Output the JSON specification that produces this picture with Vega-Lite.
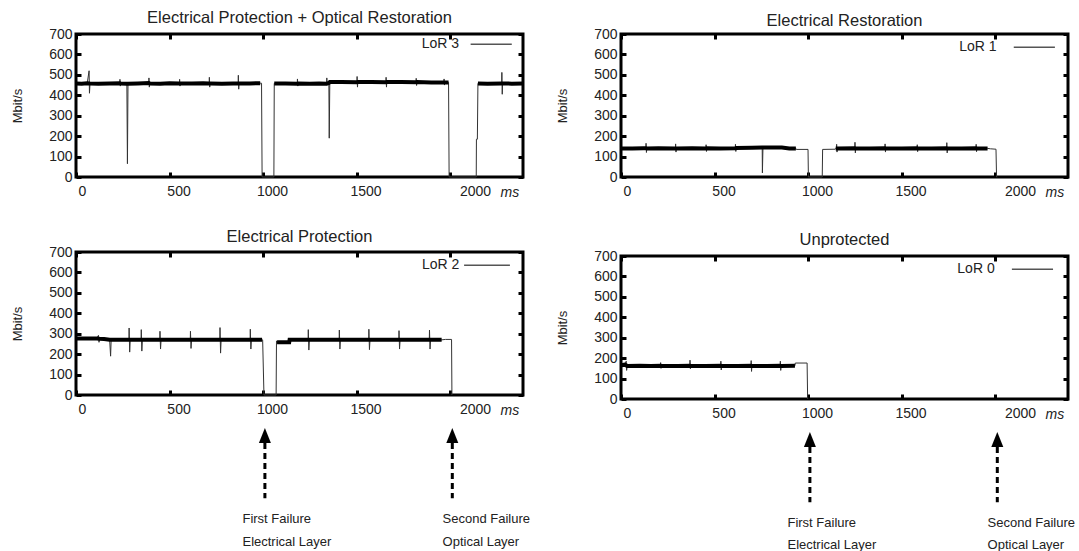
{
  "$schema": "https://vega.github.io/schema/vega-lite/v6.json",
  "padding": {"left": 10, "top": 8, "right": 2, "bottom": 0},
  "background": "white",
  "datasets": {
    "tl": [
      {"t":0,"v":458,"b":1},{"t":30,"v":456,"b":1},{"t":60,"v":459,"b":1},{"t":70,"v":520},{"t":72,"v":410},{"t":75,"v":458,"b":1},
      {"t":120,"v":457,"b":1},{"t":180,"v":458,"b":1},{"t":234,"v":459,"b":1},{"t":235,"v":478},{"t":237,"v":445},{"t":239,"v":458,"b":1},
      {"t":272,"v":456,"b":1},{"t":275,"v":65},{"t":278,"v":456,"b":1},{"t":330,"v":458,"b":1},{"t":389,"v":460,"b":1},{"t":390,"v":485},{"t":392,"v":440},{"t":394,"v":458,"b":1},
      {"t":450,"v":457,"b":1},{"t":500,"v":459,"b":1},{"t":553,"v":458,"b":1},{"t":554,"v":478},{"t":556,"v":445},{"t":558,"v":458,"b":1},
      {"t":620,"v":458,"b":1},{"t":680,"v":459,"b":1},{"t":712,"v":458,"b":1},{"t":713,"v":488},{"t":715,"v":440},{"t":717,"v":458,"b":1},
      {"t":780,"v":457,"b":1},{"t":840,"v":458,"b":1},{"t":867,"v":458,"b":1},{"t":868,"v":498},{"t":870,"v":430},{"t":872,"v":458,"b":1},
      {"t":930,"v":458,"b":1},{"t":985,"v":459,"b":1},{"t":992,"v":459},{"t":995,"v":0},{"t":1058,"v":0},{"t":1060,"v":458,"b":2},
      {"t":1120,"v":458,"b":2},{"t":1183,"v":457,"b":2},{"t":1184,"v":480},{"t":1186,"v":445},{"t":1188,"v":458,"b":2},
      {"t":1250,"v":456,"b":2},{"t":1300,"v":458,"b":2},{"t":1340,"v":457,"b":2},{"t":1341,"v":485},{"t":1343,"v":450},{"t":1352,"v":460,"b":2},
      {"t":1354,"v":190},{"t":1357,"v":465,"b":2},{"t":1420,"v":465,"b":2},{"t":1502,"v":464,"b":2},{"t":1503,"v":492},{"t":1505,"v":440},{"t":1507,"v":465,"b":2},
      {"t":1580,"v":465,"b":2},{"t":1657,"v":464,"b":2},{"t":1658,"v":488},{"t":1660,"v":440},{"t":1662,"v":465,"b":2},
      {"t":1740,"v":465,"b":2},{"t":1818,"v":464,"b":2},{"t":1819,"v":483},{"t":1821,"v":448},{"t":1823,"v":465,"b":2},
      {"t":1900,"v":463,"b":2},{"t":1967,"v":462,"b":2},{"t":1968,"v":480},{"t":1970,"v":450},{"t":1972,"v":463,"b":2},{"t":1992,"v":463,"b":2},
      {"t":1995,"v":0},{"t":2140,"v":0},{"t":2141,"v":185},{"t":2146,"v":185},{"t":2149,"v":458,"b":3},
      {"t":2200,"v":457,"b":3},{"t":2276,"v":458,"b":3},{"t":2277,"v":512},{"t":2279,"v":405},{"t":2281,"v":458,"b":3},{"t":2330,"v":457,"b":3},{"t":2390,"v":458,"b":3}
    ],
    "tr": [
      {"t":0,"v":140,"b":1},{"t":60,"v":139,"b":1},{"t":120,"v":141,"b":1},{"t":133,"v":141,"b":1},{"t":134,"v":165},{"t":136,"v":120},{"t":138,"v":140,"b":1},
      {"t":200,"v":141,"b":1},{"t":291,"v":140,"b":1},{"t":292,"v":162},{"t":294,"v":122},{"t":296,"v":140,"b":1},
      {"t":380,"v":141,"b":1},{"t":454,"v":140,"b":1},{"t":455,"v":158},{"t":457,"v":125},{"t":459,"v":141,"b":1},
      {"t":530,"v":140,"b":1},{"t":611,"v":141,"b":1},{"t":612,"v":160},{"t":614,"v":125},{"t":616,"v":142,"b":1},
      {"t":700,"v":143,"b":1},{"t":755,"v":144,"b":1},{"t":756,"v":20},{"t":759,"v":144,"b":1},{"t":800,"v":145,"b":1},{"t":860,"v":144,"b":1},
      {"t":900,"v":140,"b":1},{"t":935,"v":140,"b":1},{"t":937,"v":135},{"t":1000,"v":135},{"t":1002,"v":0},{"t":1076,"v":0},{"t":1078,"v":135},{"t":1145,"v":136},
      {"t":1148,"v":140,"b":2},{"t":1152,"v":140,"b":2},{"t":1153,"v":160},{"t":1155,"v":122},{"t":1157,"v":140,"b":2},
      {"t":1250,"v":141,"b":2},{"t":1251,"v":170},{"t":1253,"v":118},{"t":1255,"v":140,"b":2},
      {"t":1330,"v":140,"b":2},{"t":1411,"v":141,"b":2},{"t":1412,"v":162},{"t":1414,"v":122},{"t":1416,"v":140,"b":2},
      {"t":1500,"v":140,"b":2},{"t":1583,"v":141,"b":2},{"t":1584,"v":158},{"t":1586,"v":124},{"t":1588,"v":140,"b":2},
      {"t":1660,"v":140,"b":2},{"t":1741,"v":141,"b":2},{"t":1742,"v":168},{"t":1744,"v":118},{"t":1746,"v":140,"b":2},
      {"t":1820,"v":140,"b":2},{"t":1898,"v":141,"b":2},{"t":1899,"v":160},{"t":1901,"v":124},{"t":1903,"v":140,"b":2},
      {"t":1960,"v":140,"b":2},{"t":1975,"v":138},{"t":2005,"v":136},{"t":2008,"v":0},{"t":2012,"v":0}
    ],
    "bl": [
      {"t":0,"v":277,"b":1},{"t":60,"v":277,"b":1},{"t":110,"v":276,"b":1},{"t":120,"v":292},{"t":123,"v":258},{"t":126,"v":275,"b":1},
      {"t":150,"v":274,"b":1},{"t":180,"v":270,"b":1},{"t":185,"v":190},{"t":188,"v":270,"b":1},
      {"t":240,"v":271,"b":1},{"t":283,"v":270,"b":1},{"t":284,"v":328},{"t":287,"v":210},{"t":290,"v":270,"b":1},
      {"t":320,"v":270,"b":1},{"t":348,"v":270,"b":1},{"t":349,"v":320},{"t":352,"v":215},{"t":355,"v":270,"b":1},
      {"t":400,"v":271,"b":1},{"t":448,"v":270,"b":1},{"t":449,"v":312},{"t":452,"v":225},{"t":455,"v":270,"b":1},
      {"t":530,"v":270,"b":1},{"t":611,"v":270,"b":1},{"t":612,"v":312},{"t":615,"v":228},{"t":618,"v":270,"b":1},
      {"t":690,"v":270,"b":1},{"t":769,"v":271,"b":1},{"t":770,"v":330},{"t":773,"v":205},{"t":776,"v":270,"b":1},
      {"t":850,"v":270,"b":1},{"t":931,"v":270,"b":1},{"t":932,"v":322},{"t":935,"v":225},{"t":938,"v":270,"b":1},
      {"t":995,"v":270,"b":1},{"t":998,"v":270},{"t":1005,"v":0},{"t":1070,"v":0},{"t":1072,"v":265},
      {"t":1075,"v":258,"b":2},{"t":1140,"v":258,"b":2},{"t":1142,"v":270,"b":2},{"t":1200,"v":270,"b":2},
      {"t":1241,"v":270,"b":2},{"t":1242,"v":320},{"t":1245,"v":220},{"t":1248,"v":270,"b":2},
      {"t":1320,"v":270,"b":2},{"t":1407,"v":270,"b":2},{"t":1408,"v":318},{"t":1411,"v":225},{"t":1414,"v":270,"b":2},
      {"t":1490,"v":271,"b":2},{"t":1565,"v":270,"b":2},{"t":1566,"v":322},{"t":1569,"v":222},{"t":1572,"v":270,"b":2},
      {"t":1650,"v":270,"b":2},{"t":1726,"v":270,"b":2},{"t":1727,"v":315},{"t":1730,"v":225},{"t":1733,"v":270,"b":2},
      {"t":1810,"v":270,"b":2},{"t":1889,"v":270,"b":2},{"t":1890,"v":318},{"t":1893,"v":225},{"t":1896,"v":270,"b":2},
      {"t":1955,"v":270,"b":2},{"t":1975,"v":272},{"t":2008,"v":272},{"t":2010,"v":0}
    ],
    "br": [
      {"t":0,"v":165,"b":1},{"t":20,"v":168,"b":1},{"t":28,"v":185},{"t":30,"v":140},{"t":33,"v":162,"b":1},
      {"t":100,"v":163,"b":1},{"t":160,"v":162,"b":1},{"t":211,"v":163,"b":1},{"t":212,"v":178},{"t":214,"v":150},{"t":216,"v":162,"b":1},
      {"t":300,"v":162,"b":1},{"t":368,"v":163,"b":1},{"t":369,"v":190},{"t":371,"v":148},{"t":373,"v":162,"b":1},
      {"t":450,"v":162,"b":1},{"t":533,"v":163,"b":1},{"t":534,"v":185},{"t":536,"v":142},{"t":538,"v":162,"b":1},
      {"t":620,"v":162,"b":1},{"t":695,"v":163,"b":1},{"t":696,"v":188},{"t":698,"v":135},{"t":700,"v":162,"b":1},
      {"t":780,"v":162,"b":1},{"t":851,"v":163,"b":1},{"t":852,"v":185},{"t":854,"v":140},{"t":856,"v":162,"b":1},
      {"t":930,"v":163,"b":1},{"t":932,"v":176},{"t":995,"v":176},{"t":998,"v":0}
    ],
    "fail": [
      {"t":1010,"first":"First Failure","second":"Electrical Layer","tx":890},
      {"t":2012,"first":"Second Failure","second":"Optical Layer","tx":1960}
    ],
    "one": [{}]
  },
  "hconcat": [
    {
      "spacing": 25,
      "vconcat": [
        {
          "title": {"text": "Electrical Protection + Optical Restoration", "offset": 1},
          "width": 447, "height": 143,
          "layer": [
            {"data": {"name": "tl"}, "mark": {"type": "line", "color": "#333", "strokeWidth": 1},
             "encoding": {
               "x": {"field": "t", "type": "quantitative", "scale": {"domain": [0, 2390], "nice": false, "zero": false},
                     "axis": {"orient": "bottom", "values": [0, 500, 1000, 1500, 2000], "format": "d", "title": null,
                              "labelOffset": {"condition": [{"test": "datum.value == 2000", "value": 25}, {"test": "datum.value == 0", "value": 2}], "value": 9}}},
               "y": {"field": "v", "type": "quantitative", "scale": {"domain": [0, 700], "nice": false},
                     "axis": {"values": [0, 100, 200, 300, 400, 500, 600, 700], "title": "Mbit/s"}}}},
            {"data": {"name": "tl"}, "transform": [{"filter": "isValid(datum.b)"}], "mark": {"type": "line", "color": "#000", "strokeWidth": 4},
             "encoding": {
               "x": {"field": "t", "type": "quantitative", "scale": {"domain": [0, 2390]}, "axis": null},
               "y": {"field": "v", "type": "quantitative", "scale": {"domain": [0, 700]}, "axis": null},
               "detail": {"field": "b"}}},
            {"data": {"name": "tl"}, "mark": {"type": "point", "opacity": 0},
             "encoding": {
               "x": {"field": "t", "type": "quantitative", "scale": {"domain": [0, 2390]}, "axis": {"orient": "top", "labels": false, "title": null, "values": [0, 500, 1000, 1500, 2000]}},
               "y": {"field": "v", "type": "quantitative", "scale": {"domain": [0, 700]}, "axis": {"orient": "right", "labels": false, "title": null, "values": [0, 100, 200, 300, 400, 500, 600, 700]}}}},
            {"data": {"name": "one"}, "mark": {"type": "text", "align": "right", "baseline": "middle", "fontSize": 14, "color": "#222"},
             "encoding": {"x": {"datum": 2048, "type": "quantitative", "scale": {"domain": [0, 2390]}, "axis": null}, "y": {"datum": 650, "type": "quantitative", "scale": {"domain": [0, 700]}, "axis": null}, "text": {"value": "LoR 3"}}},
            {"data": {"name": "one"}, "mark": {"type": "rule", "color": "#555", "strokeWidth": 1.5},
             "encoding": {"x": {"datum": 2110, "type": "quantitative", "scale": {"domain": [0, 2390]}, "axis": null}, "x2": {"datum": 2330}, "y": {"datum": 650, "type": "quantitative", "scale": {"domain": [0, 700]}, "axis": null}}},
            {"data": {"name": "one"}, "mark": {"type": "text", "align": "center", "baseline": "middle", "fontSize": 14, "fontStyle": "italic", "color": "#222", "clip": false},
             "encoding": {"x": {"datum": 2320, "type": "quantitative", "scale": {"domain": [0, 2390]}, "axis": null}, "y": {"datum": -80, "type": "quantitative", "scale": {"domain": [0, 700]}, "axis": null}, "text": {"value": "ms"}}}
          ],
          "resolve": {"axis": {"x": "independent", "y": "independent"}}
        },
        {
          "title": {"text": "Electrical Protection", "offset": 0},
          "width": 447, "height": 143,
          "layer": [
            {"data": {"name": "bl"}, "mark": {"type": "line", "color": "#333", "strokeWidth": 1},
             "encoding": {
               "x": {"field": "t", "type": "quantitative", "scale": {"domain": [0, 2390], "nice": false, "zero": false},
                     "axis": {"orient": "bottom", "values": [0, 500, 1000, 1500, 2000], "format": "d", "title": null,
                              "labelOffset": {"condition": [{"test": "datum.value == 2000", "value": 25}, {"test": "datum.value == 0", "value": 2}], "value": 9}}},
               "y": {"field": "v", "type": "quantitative", "scale": {"domain": [0, 700], "nice": false},
                     "axis": {"values": [0, 100, 200, 300, 400, 500, 600, 700], "title": "Mbit/s"}}}},
            {"data": {"name": "bl"}, "transform": [{"filter": "isValid(datum.b)"}], "mark": {"type": "line", "color": "#000", "strokeWidth": 4},
             "encoding": {
               "x": {"field": "t", "type": "quantitative", "scale": {"domain": [0, 2390]}, "axis": null},
               "y": {"field": "v", "type": "quantitative", "scale": {"domain": [0, 700]}, "axis": null},
               "detail": {"field": "b"}}},
            {"data": {"name": "bl"}, "mark": {"type": "point", "opacity": 0},
             "encoding": {
               "x": {"field": "t", "type": "quantitative", "scale": {"domain": [0, 2390]}, "axis": {"orient": "top", "labels": false, "title": null, "values": [0, 500, 1000, 1500, 2000]}},
               "y": {"field": "v", "type": "quantitative", "scale": {"domain": [0, 700]}, "axis": {"orient": "right", "labels": false, "title": null, "values": [0, 100, 200, 300, 400, 500, 600, 700]}}}},
            {"data": {"name": "one"}, "mark": {"type": "text", "align": "right", "baseline": "middle", "fontSize": 14, "color": "#222"},
             "encoding": {"x": {"datum": 2050, "type": "quantitative", "scale": {"domain": [0, 2390]}, "axis": null}, "y": {"datum": 635, "type": "quantitative", "scale": {"domain": [0, 700]}, "axis": null}, "text": {"value": "LoR 2"}}},
            {"data": {"name": "one"}, "mark": {"type": "rule", "color": "#555", "strokeWidth": 1.5},
             "encoding": {"x": {"datum": 2075, "type": "quantitative", "scale": {"domain": [0, 2390]}, "axis": null}, "x2": {"datum": 2320}, "y": {"datum": 635, "type": "quantitative", "scale": {"domain": [0, 700]}, "axis": null}}},
            {"data": {"name": "one"}, "mark": {"type": "text", "align": "center", "baseline": "middle", "fontSize": 14, "fontStyle": "italic", "color": "#222", "clip": false},
             "encoding": {"x": {"datum": 2320, "type": "quantitative", "scale": {"domain": [0, 2390]}, "axis": null}, "y": {"datum": -80, "type": "quantitative", "scale": {"domain": [0, 700]}, "axis": null}, "text": {"value": "ms"}}},
            {"data": {"name": "fail"}, "mark": {"type": "rule", "color": "#000", "strokeWidth": 3, "strokeDash": [6, 4], "clip": false},
             "encoding": {"x": {"field": "t", "type": "quantitative", "scale": {"domain": [0, 2390]}, "axis": null}, "y": {"datum": -235, "type": "quantitative", "scale": {"domain": [0, 700]}, "axis": null}, "y2": {"datum": -505}}},
            {"data": {"name": "fail"}, "mark": {"type": "point", "shape": "M-0.8,1L0,-1L0.8,1Z", "filled": true, "color": "#000", "opacity": 1, "size": 225, "clip": false},
             "encoding": {"x": {"field": "t", "type": "quantitative", "scale": {"domain": [0, 2390]}, "axis": null}, "y": {"datum": -198, "type": "quantitative", "scale": {"domain": [0, 700]}, "axis": null}}},
            {"data": {"name": "fail"}, "mark": {"type": "text", "align": "left", "baseline": "middle", "fontSize": 13, "color": "#222", "clip": false},
             "encoding": {"x": {"field": "tx", "type": "quantitative", "scale": {"domain": [0, 2390]}, "axis": null}, "y": {"datum": -607, "type": "quantitative", "scale": {"domain": [0, 700]}, "axis": null}, "text": {"field": "first"}}},
            {"data": {"name": "fail"}, "mark": {"type": "text", "align": "left", "baseline": "middle", "fontSize": 13, "color": "#222", "clip": false},
             "encoding": {"x": {"field": "tx", "type": "quantitative", "scale": {"domain": [0, 2390]}, "axis": null}, "y": {"datum": -720, "type": "quantitative", "scale": {"domain": [0, 700]}, "axis": null}, "text": {"field": "second"}}}
          ],
          "resolve": {"axis": {"x": "independent", "y": "independent"}}
        }
      ]
    },
    {
      "spacing": 28,
      "vconcat": [
        {
          "title": {"text": "Electrical Restoration", "offset": -2},
          "width": 447, "height": 143,
          "layer": [
            {"data": {"name": "tr"}, "mark": {"type": "line", "color": "#333", "strokeWidth": 1},
             "encoding": {
               "x": {"field": "t", "type": "quantitative", "scale": {"domain": [0, 2390], "nice": false, "zero": false},
                     "axis": {"orient": "bottom", "values": [0, 500, 1000, 1500, 2000], "format": "d", "title": null,
                              "labelOffset": {"condition": [{"test": "datum.value == 2000", "value": 25}, {"test": "datum.value == 0", "value": 2}], "value": 9}}},
               "y": {"field": "v", "type": "quantitative", "scale": {"domain": [0, 700], "nice": false},
                     "axis": {"values": [0, 100, 200, 300, 400, 500, 600, 700], "title": "Mbit/s"}}}},
            {"data": {"name": "tr"}, "transform": [{"filter": "isValid(datum.b)"}], "mark": {"type": "line", "color": "#000", "strokeWidth": 4},
             "encoding": {
               "x": {"field": "t", "type": "quantitative", "scale": {"domain": [0, 2390]}, "axis": null},
               "y": {"field": "v", "type": "quantitative", "scale": {"domain": [0, 700]}, "axis": null},
               "detail": {"field": "b"}}},
            {"data": {"name": "tr"}, "mark": {"type": "point", "opacity": 0},
             "encoding": {
               "x": {"field": "t", "type": "quantitative", "scale": {"domain": [0, 2390]}, "axis": {"orient": "top", "labels": false, "title": null, "values": [0, 500, 1000, 1500, 2000]}},
               "y": {"field": "v", "type": "quantitative", "scale": {"domain": [0, 700]}, "axis": {"orient": "right", "labels": false, "title": null, "values": [0, 100, 200, 300, 400, 500, 600, 700]}}}},
            {"data": {"name": "one"}, "mark": {"type": "text", "align": "right", "baseline": "middle", "fontSize": 14, "color": "#222"},
             "encoding": {"x": {"datum": 2008, "type": "quantitative", "scale": {"domain": [0, 2390]}, "axis": null}, "y": {"datum": 635, "type": "quantitative", "scale": {"domain": [0, 700]}, "axis": null}, "text": {"value": "LoR 1"}}},
            {"data": {"name": "one"}, "mark": {"type": "rule", "color": "#555", "strokeWidth": 1.5},
             "encoding": {"x": {"datum": 2100, "type": "quantitative", "scale": {"domain": [0, 2390]}, "axis": null}, "x2": {"datum": 2320}, "y": {"datum": 635, "type": "quantitative", "scale": {"domain": [0, 700]}, "axis": null}}},
            {"data": {"name": "one"}, "mark": {"type": "text", "align": "center", "baseline": "middle", "fontSize": 14, "fontStyle": "italic", "color": "#222", "clip": false},
             "encoding": {"x": {"datum": 2320, "type": "quantitative", "scale": {"domain": [0, 2390]}, "axis": null}, "y": {"datum": -80, "type": "quantitative", "scale": {"domain": [0, 700]}, "axis": null}, "text": {"value": "ms"}}}
          ],
          "resolve": {"axis": {"x": "independent", "y": "independent"}}
        },
        {
          "title": {"text": "Unprotected", "offset": 1},
          "width": 447, "height": 143,
          "layer": [
            {"data": {"name": "br"}, "mark": {"type": "line", "color": "#333", "strokeWidth": 1},
             "encoding": {
               "x": {"field": "t", "type": "quantitative", "scale": {"domain": [0, 2390], "nice": false, "zero": false},
                     "axis": {"orient": "bottom", "values": [0, 500, 1000, 1500, 2000], "format": "d", "title": null,
                              "labelOffset": {"condition": [{"test": "datum.value == 2000", "value": 25}, {"test": "datum.value == 0", "value": 2}], "value": 9}}},
               "y": {"field": "v", "type": "quantitative", "scale": {"domain": [0, 700], "nice": false},
                     "axis": {"values": [0, 100, 200, 300, 400, 500, 600, 700], "title": "Mbit/s"}}}},
            {"data": {"name": "br"}, "transform": [{"filter": "isValid(datum.b)"}], "mark": {"type": "line", "color": "#000", "strokeWidth": 4},
             "encoding": {
               "x": {"field": "t", "type": "quantitative", "scale": {"domain": [0, 2390]}, "axis": null},
               "y": {"field": "v", "type": "quantitative", "scale": {"domain": [0, 700]}, "axis": null},
               "detail": {"field": "b"}}},
            {"data": {"name": "br"}, "mark": {"type": "point", "opacity": 0},
             "encoding": {
               "x": {"field": "t", "type": "quantitative", "scale": {"domain": [0, 2390]}, "axis": {"orient": "top", "labels": false, "title": null, "values": [0, 500, 1000, 1500, 2000]}},
               "y": {"field": "v", "type": "quantitative", "scale": {"domain": [0, 700]}, "axis": {"orient": "right", "labels": false, "title": null, "values": [0, 100, 200, 300, 400, 500, 600, 700]}}}},
            {"data": {"name": "one"}, "mark": {"type": "text", "align": "right", "baseline": "middle", "fontSize": 14, "color": "#222"},
             "encoding": {"x": {"datum": 1998, "type": "quantitative", "scale": {"domain": [0, 2390]}, "axis": null}, "y": {"datum": 635, "type": "quantitative", "scale": {"domain": [0, 700]}, "axis": null}, "text": {"value": "LoR 0"}}},
            {"data": {"name": "one"}, "mark": {"type": "rule", "color": "#555", "strokeWidth": 1.5},
             "encoding": {"x": {"datum": 2090, "type": "quantitative", "scale": {"domain": [0, 2390]}, "axis": null}, "x2": {"datum": 2310}, "y": {"datum": 635, "type": "quantitative", "scale": {"domain": [0, 700]}, "axis": null}}},
            {"data": {"name": "one"}, "mark": {"type": "text", "align": "center", "baseline": "middle", "fontSize": 14, "fontStyle": "italic", "color": "#222", "clip": false},
             "encoding": {"x": {"datum": 2320, "type": "quantitative", "scale": {"domain": [0, 2390]}, "axis": null}, "y": {"datum": -80, "type": "quantitative", "scale": {"domain": [0, 700]}, "axis": null}, "text": {"value": "ms"}}},
            {"data": {"name": "fail"}, "mark": {"type": "rule", "color": "#000", "strokeWidth": 3, "strokeDash": [6, 4], "clip": false},
             "encoding": {"x": {"field": "t", "type": "quantitative", "scale": {"domain": [0, 2390]}, "axis": null}, "y": {"datum": -235, "type": "quantitative", "scale": {"domain": [0, 700]}, "axis": null}, "y2": {"datum": -505}}},
            {"data": {"name": "fail"}, "mark": {"type": "point", "shape": "M-0.8,1L0,-1L0.8,1Z", "filled": true, "color": "#000", "opacity": 1, "size": 225, "clip": false},
             "encoding": {"x": {"field": "t", "type": "quantitative", "scale": {"domain": [0, 2390]}, "axis": null}, "y": {"datum": -198, "type": "quantitative", "scale": {"domain": [0, 700]}, "axis": null}}},
            {"data": {"name": "fail"}, "mark": {"type": "text", "align": "left", "baseline": "middle", "fontSize": 13, "color": "#222", "clip": false},
             "encoding": {"x": {"field": "tx", "type": "quantitative", "scale": {"domain": [0, 2390]}, "axis": null}, "y": {"datum": -607, "type": "quantitative", "scale": {"domain": [0, 700]}, "axis": null}, "text": {"field": "first"}}},
            {"data": {"name": "fail"}, "mark": {"type": "text", "align": "left", "baseline": "middle", "fontSize": 13, "color": "#222", "clip": false},
             "encoding": {"x": {"field": "tx", "type": "quantitative", "scale": {"domain": [0, 2390]}, "axis": null}, "y": {"datum": -716, "type": "quantitative", "scale": {"domain": [0, 700]}, "axis": null}, "text": {"field": "second"}}}
          ],
          "resolve": {"axis": {"x": "independent", "y": "independent"}}
        }
      ]
    }
  ],
  "spacing": 22,
  "config": {
    "font": "Liberation Sans",
    "view": {"stroke": "#000", "strokeWidth": 3},
    "axis": {"domain": false, "grid": false, "ticks": true, "tickSize": -5, "tickWidth": 3, "tickColor": "#000",
             "labelFont": "Liberation Sans", "labelFontSize": 14, "labelColor": "#222", "labelPadding": 9,
             "titleFont": "Liberation Sans", "titleFontSize": 13, "titleFontWeight": "normal", "titleColor": "#222", "titlePadding": 24},
    "axisX": {"labelPadding": 12},
    "title": {"font": "Liberation Sans", "fontSize": 16.5, "fontWeight": "normal", "color": "#222"}
  }
}
